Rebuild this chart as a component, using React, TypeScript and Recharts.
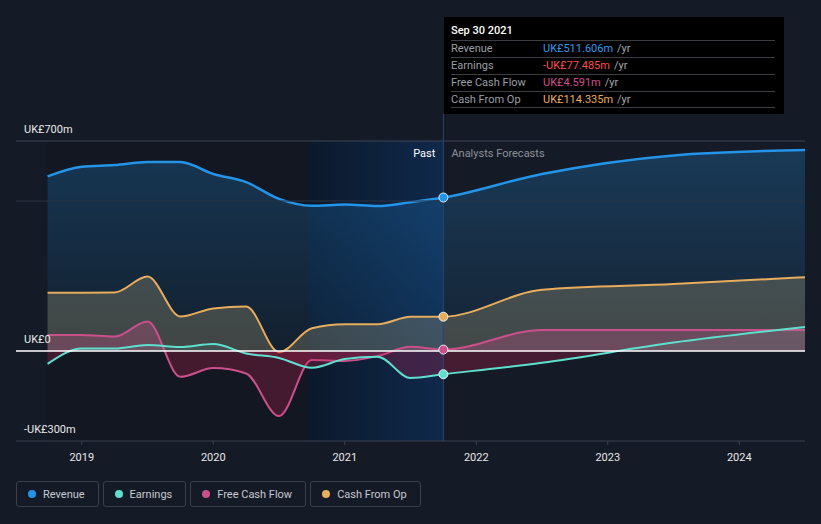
import React from 'react'
import { ComposedChart, Area, XAxis, YAxis, ReferenceArea, ReferenceLine } from 'recharts'

// quarterly trailing figures up to Sep 2021, then analyst forecasts (UK£m)
const dates = [2018.74, 2019.0, 2019.25, 2019.5, 2019.75, 2020.0, 2020.25, 2020.5, 2020.75, 2021.0, 2021.25, 2021.5, 2021.75, 2022.5, 2023.5, 2024.5]
const revenue = [582, 614, 620, 630, 630, 590, 563, 507, 484, 488, 483, 496, 511.606, 590, 652, 670]
const earnings = [-43, 8, 8, 20, 13, 23, -8, -23, -56, -27, -19, -90, -77.485, -39, 28, 80]
const freeCashFlow = [53, 53, 48, 98, -86, -57, -75, -217, -30, -33, -17, 14, 4.591, 70, 70, 70]
const cashFromOp = [194, 194, 195, 248, 115, 142, 148, -4, 76, 89, 89, 114, 114.335, 204, 223, 246]

const yearTicks = [2019, 2020, 2021, 2022, 2023, 2024]
const valueLabels = [700, 0, -300]

const PAST_END = 2021.75
const HIGHLIGHT_START = 2020.73
const LAST_PAST = dates.indexOf(PAST_END)

const COLORS = {
  revenue: '#2394e8',
  earnings: '#5fe0cf',
  fcf: '#c9508a',
  cfo: '#e8ad5c',
}

const data = dates.map((d, i) => ({
  date: d,
  revenue: revenue[i],
  earnings: earnings[i],
  fcf: freeCashFlow[i],
  cfo: cashFromOp[i],
}))

const fmtValue = (v: number) => (v < 0 ? `-UK£${Math.abs(v)}m` : v === 0 ? 'UK£0' : `UK£${v}m`)

const lastDot = (color: string) => (props: any) => {
  const { cx, cy, index } = props
  if (index !== LAST_PAST) return <g key={`d${index}`} />
  return <circle key={`d${index}`} cx={cx} cy={cy} r={4.5} fill={color} stroke="#e6edf5" strokeWidth={1} />
}

const tooltipRows = [
  { label: 'Revenue', value: 'UK£511.606m', color: '#2d9cec' },
  { label: 'Earnings', value: '-UK£77.485m', color: '#ff4b4b' },
  { label: 'Free Cash Flow', value: 'UK£4.591m', color: '#cf4f8f' },
  { label: 'Cash From Op', value: 'UK£114.335m', color: '#e8ad5c' },
]

const legendItems = [
  { label: 'Revenue', color: COLORS.revenue },
  { label: 'Earnings', color: COLORS.earnings },
  { label: 'Free Cash Flow', color: COLORS.fcf },
  { label: 'Cash From Op', color: COLORS.cfo },
]

// split fill: series colour above zero, red below (zero sits 70% down the plot)
const splitGradient = (id: string, color: string, top: number, mid: number, neg: number) => (
  <linearGradient id={id} gradientUnits="userSpaceOnUse" x1={0} y1={141} x2={0} y2={441}>
    <stop offset="0" stopColor={color} stopOpacity={top} />
    <stop offset="0.7" stopColor={color} stopOpacity={mid} />
    <stop offset="0.7" stopColor="#c02050" stopOpacity={neg} />
    <stop offset="1" stopColor="#c02050" stopOpacity={neg} />
  </linearGradient>
)

export default function App() {
  return (
    <div
      style={{
        position: 'absolute',
        left: 0,
        top: 0,
        width: 821,
        height: 524,
        background: '#151b26',
        fontFamily: 'Roboto, sans-serif',
        overflow: 'hidden',
      }}
    >
      <ComposedChart width={821} height={524} data={data} margin={{ top: 141, right: 16, left: 16, bottom: 53 }}>
        <defs>
          <linearGradient id="hl" x1="0" y1="0" x2="1" y2="0">
            <stop offset="0" stopColor="#0c192c" />
            <stop offset="1" stopColor="#0f294b" />
          </linearGradient>
          {splitGradient('gRev', COLORS.revenue, 0.26, 0.07, 0)}
          {splitGradient('gEarn', COLORS.earnings, 0.12, 0.08, 0.28)}
          {splitGradient('gCfo', '#c0b080', 0.28, 0.26, 0.25)}
          {splitGradient('gFcf', COLORS.fcf, 0.3, 0.3, 0.28)}
        </defs>

        <ReferenceArea x1={dates[0]} x2={HIGHLIGHT_START} fill="#0a0d12" fillOpacity={0.25} stroke="none" zIndex={-60} />
        <ReferenceArea
          x1={HIGHLIGHT_START}
          x2={PAST_END}
          fill="url(#hl)"
          fillOpacity={1}
          stroke="none"
          zIndex={-60}
          label={{ value: 'Past', position: 'insideTopRight', offset: 8, fill: '#ffffff', fontSize: 11 }}
        />
        <ReferenceArea
          x1={PAST_END}
          x2={2024.5}
          fillOpacity={0}
          stroke="none"
          zIndex={-60}
          label={{ value: 'Analysts Forecasts', position: 'insideTopLeft', offset: 8, fill: '#8b9098', fontSize: 11 }}
        />
        <ReferenceLine y={500} stroke="#2a3240" strokeWidth={1} />

        <XAxis
          dataKey="date"
          type="number"
          domain={[2018.5, 2024.5]}
          ticks={yearTicks}
          allowDataOverflow
          height={30}
          tickSize={4}
          tickMargin={8}
          axisLine={{ stroke: '#3a4150' }}
          tickLine={{ stroke: '#3a4150' }}
          tick={{ fill: '#e6e6e6', fontSize: 11 }}
        />
        <YAxis type="number" domain={[-300, 700]} allowDataOverflow hide width={0} />

        <Area
          type="monotone"
          dataKey="revenue"
          baseValue={0}
          stroke={COLORS.revenue}
          strokeWidth={2.5}
          fill="url(#gRev)"
          fillOpacity={1}
          dot={lastDot(COLORS.revenue)}
          activeDot={false}
          isAnimationActive={false}
        />
        <Area
          type="monotone"
          dataKey="cfo"
          baseValue={0}
          stroke={COLORS.cfo}
          strokeWidth={2}
          fill="url(#gCfo)"
          fillOpacity={1}
          dot={lastDot(COLORS.cfo)}
          activeDot={false}
          isAnimationActive={false}
        />
        <Area
          type="monotone"
          dataKey="fcf"
          baseValue={0}
          stroke={COLORS.fcf}
          strokeWidth={2}
          fill="url(#gFcf)"
          fillOpacity={1}
          dot={lastDot(COLORS.fcf)}
          activeDot={false}
          isAnimationActive={false}
        />
        <Area
          type="monotone"
          dataKey="earnings"
          baseValue={0}
          stroke={COLORS.earnings}
          strokeWidth={2}
          fill="url(#gEarn)"
          fillOpacity={1}
          dot={lastDot(COLORS.earnings)}
          activeDot={false}
          isAnimationActive={false}
        />

        {valueLabels.map((v) => (
          <ReferenceLine
            key={v}
            y={v}
            stroke={v === 0 ? '#ffffff' : v === 700 ? '#3c4452' : 'none'}
            strokeWidth={v === 0 ? 1.5 : 1}
            label={{ value: fmtValue(v), position: 'insideBottomLeft', offset: 8, fill: '#e8e8e8', fontSize: 11 }}
          />
        ))}
        <ReferenceLine
          segment={[
            { x: PAST_END, y: -300 },
            { x: PAST_END, y: 790 },
          ]}
          ifOverflow="visible"
          stroke="#2b4468"
          strokeWidth={1}
        />
      </ComposedChart>

      <div
        style={{
          position: 'absolute',
          left: 444,
          top: 17,
          width: 340,
          height: 97,
          background: '#000000',
          padding: '0 9px 0 7px',
          boxSizing: 'border-box',
          fontSize: 11,
        }}
      >
        <div style={{ color: '#ffffff', fontWeight: 500, height: 23, lineHeight: '27px' }}>Sep 30 2021</div>
        {tooltipRows.map((r, i) => (
          <div
            key={r.label}
            style={{
              display: 'flex',
              height: 17,
              lineHeight: '16px',
              borderTop: '1px solid #3a3d42',
              borderBottom: i === tooltipRows.length - 1 ? '1px solid #3a3d42' : undefined,
              boxSizing: 'border-box',
            }}
          >
            <span style={{ width: 92, color: '#9a9ea6' }}>{r.label}</span>
            <span style={{ color: r.color }}>{r.value}</span>
            <span style={{ color: '#a4a8ae', marginLeft: 4 }}>/yr</span>
          </div>
        ))}
      </div>

      <div style={{ position: 'absolute', left: 16, top: 481, display: 'flex', gap: 4 }}>
        {legendItems.map((l) => (
          <div
            key={l.label}
            style={{
              display: 'flex',
              alignItems: 'center',
              height: 26,
              boxSizing: 'border-box',
              border: '1px solid #3a404b',
              borderRadius: 3,
              padding: '0 13px 0 11px',
              color: '#c5c9d0',
              fontSize: 11,
            }}
          >
            <span style={{ width: 8, height: 8, borderRadius: '50%', background: l.color, marginRight: 7 }} />
            {l.label}
          </div>
        ))}
      </div>
    </div>
  )
}
